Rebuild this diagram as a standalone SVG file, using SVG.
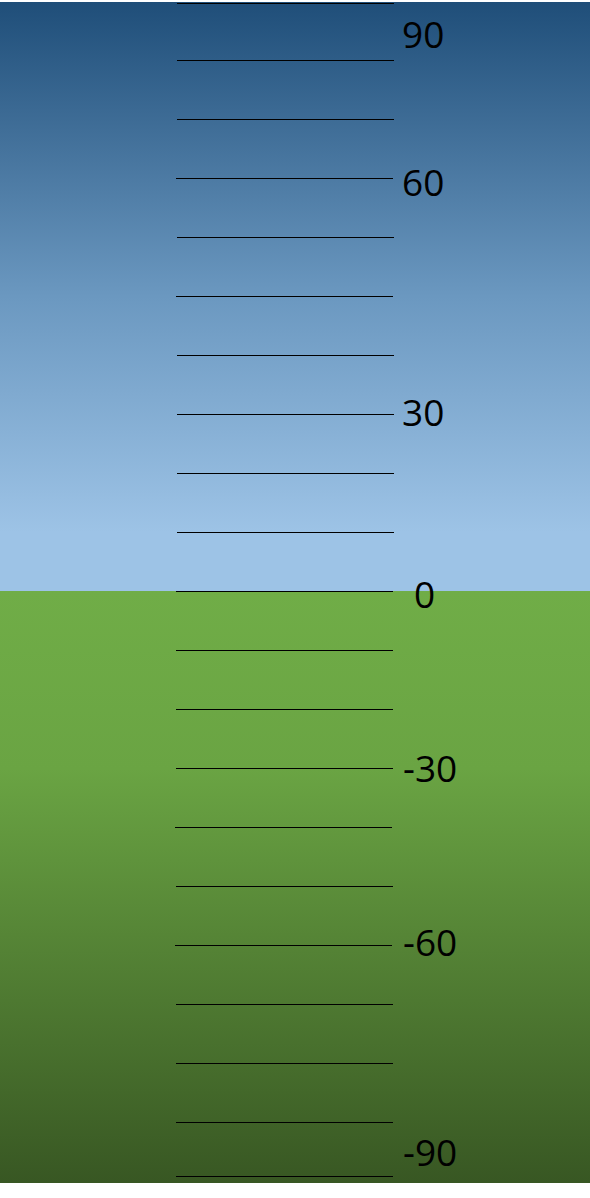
<svg xmlns="http://www.w3.org/2000/svg" width="590" height="1198" viewBox="0 0 590 1198">
<defs>
<linearGradient id="sky" x1="0" y1="0" x2="0" y2="1">
<stop offset="0" stop-color="#1F4E79"/>
<stop offset="0.5" stop-color="#6B98C0"/>
<stop offset="0.9" stop-color="#9DC3E6"/>
<stop offset="1" stop-color="#9DC3E6"/>
</linearGradient>
<linearGradient id="ground" x1="0" y1="0" x2="0" y2="1">
<stop offset="0" stop-color="#70AD47"/>
<stop offset="0.3" stop-color="#6AA443"/>
<stop offset="1" stop-color="#385723"/>
</linearGradient>
<style>
.tick{stroke:#000;stroke-width:1}
.lbl{font-family:"Open Sans","Noto Sans",sans-serif;font-size:37px;fill:#000}
</style>
</defs>
<g id="background">
<rect x="0" y="2" width="590" height="589" fill="url(#sky)"/>
<rect x="0" y="591" width="590" height="592" fill="url(#ground)"/>
</g>
<g id="ticks">
<line class="tick" x1="177" y1="3.5" x2="394" y2="3.5"/>
<line class="tick" x1="177" y1="60.5" x2="394" y2="60.5"/>
<line class="tick" x1="177" y1="119.5" x2="394" y2="119.5"/>
<line class="tick" x1="176" y1="178.5" x2="393" y2="178.5"/>
<line class="tick" x1="177" y1="237.5" x2="394" y2="237.5"/>
<line class="tick" x1="176" y1="296.5" x2="393" y2="296.5"/>
<line class="tick" x1="177" y1="355.5" x2="394" y2="355.5"/>
<line class="tick" x1="177" y1="414.5" x2="394" y2="414.5"/>
<line class="tick" x1="177" y1="473.5" x2="394" y2="473.5"/>
<line class="tick" x1="177" y1="532.5" x2="394" y2="532.5"/>
<line class="tick" x1="176" y1="591.5" x2="393" y2="591.5"/>
<line class="tick" x1="176" y1="650.5" x2="393" y2="650.5"/>
<line class="tick" x1="176" y1="709.5" x2="393" y2="709.5"/>
<line class="tick" x1="176" y1="768.5" x2="393" y2="768.5"/>
<line class="tick" x1="175" y1="827.5" x2="392" y2="827.5"/>
<line class="tick" x1="176" y1="886.5" x2="393" y2="886.5"/>
<line class="tick" x1="175" y1="945.5" x2="392" y2="945.5"/>
<line class="tick" x1="176" y1="1004.5" x2="393" y2="1004.5"/>
<line class="tick" x1="176" y1="1063.5" x2="393" y2="1063.5"/>
<line class="tick" x1="176" y1="1122.5" x2="393" y2="1122.5"/>
<line class="tick" x1="176" y1="1176.5" x2="393" y2="1176.5"/>
</g>
<g id="labels">
<text class="lbl" x="402" y="48">90</text>
<text class="lbl" x="402" y="196">60</text>
<text class="lbl" x="402" y="426">30</text>
<text class="lbl" x="414" y="608">0</text>
<text class="lbl" x="403" y="782">-30</text>
<text class="lbl" x="403" y="956">-60</text>
<text class="lbl" x="403" y="1166">-90</text>
</g>
</svg>
